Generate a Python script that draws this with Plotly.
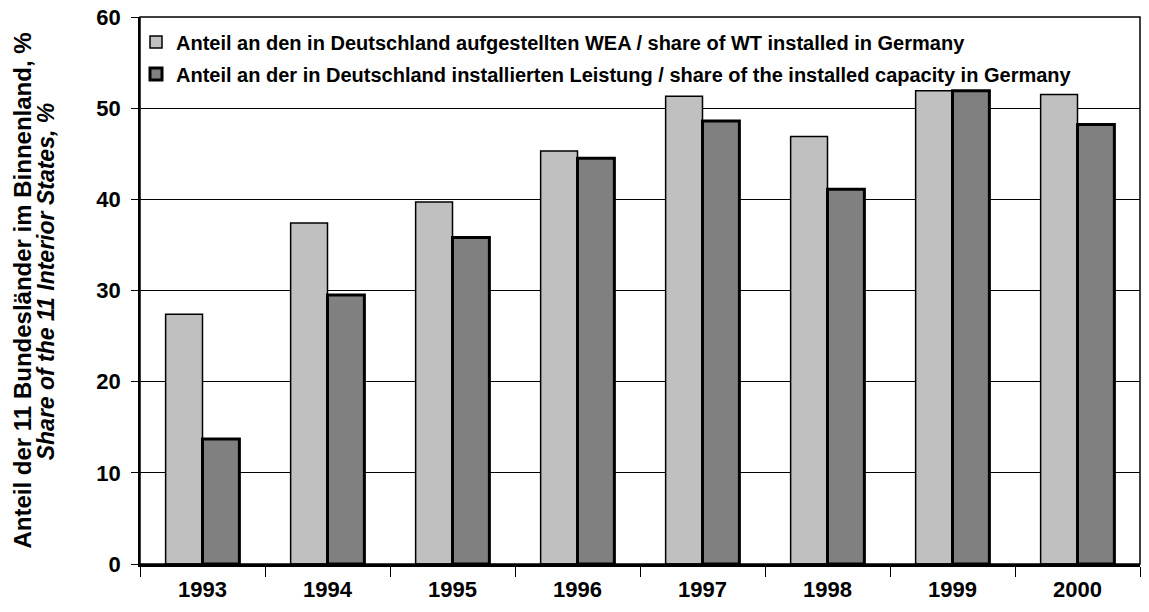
"""Share of the 11 interior states in German wind turbine installations."""

import plotly.graph_objects as go

years = ["1993", "1994", "1995", "1996", "1997", "1998", "1999", "2000"]
share_wt = [27.4, 37.4, 39.7, 45.3, 51.3, 46.9, 51.9, 51.5]
share_capacity = [13.7, 29.5, 35.8, 44.5, 48.6, 41.1, 51.9, 48.2]

name_wt = "Anteil an den in Deutschland aufgestellten WEA / share of WT installed in Germany"
name_capacity = (
    "Anteil an der in Deutschland installierten Leistung / share of the installed capacity in Germany"
)

FONT = "Arial, Liberation Sans, sans-serif"

fig = go.Figure()

fig.add_trace(
    go.Bar(
        x=years,
        y=share_wt,
        name=name_wt,
        legendgroup="wt",
        marker=dict(color="#C0C0C0", line=dict(color="black", width=1.5)),
    )
)
fig.add_trace(
    go.Bar(
        x=years,
        y=share_capacity,
        name=name_capacity,
        legendgroup="cap",
        marker=dict(color="#808080", line=dict(color="black", width=3)),
    )
)

fig.update_layout(
    width=1149,
    height=612,
    margin=dict(l=140, r=9, t=17, b=48),
    paper_bgcolor="white",
    plot_bgcolor="white",
    barmode="group",
    bargap=0.41,
    bargroupgap=0,
    font=dict(family=FONT, color="black"),
    legend=dict(
        x=-0.004,
        y=0.99,
        xanchor="left",
        yanchor="top",
        bgcolor="rgba(0,0,0,0)",
        font=dict(size=20, family=FONT, weight="bold"),
        traceorder="grouped",
        tracegroupgap=3,
        itemwidth=30,
    ),
    xaxis=dict(
        automargin=False,
        showline=True,
        linecolor="black",
        linewidth=2.5,
        ticks="outside",
        tickson="boundaries",
        ticklen=10,
        tickcolor="black",
        tickwidth=1,
        ticklabelstandoff=4,
        tickfont=dict(size=22, family=FONT, weight="bold"),
        ticklabeloverflow="allow",
        showgrid=False,
    ),
    yaxis=dict(
        automargin=False,
        range=[0, 60],
        dtick=10,
        showline=True,
        linecolor="black",
        linewidth=1.5,
        ticks="outside",
        ticklen=7,
        tickcolor="black",
        ticklabelstandoff=6,
        ticklabeloverflow="allow",
        tickfont=dict(size=22, family=FONT, weight="bold"),
        showgrid=True,
        gridcolor="black",
        gridwidth=1,
        zeroline=False,
    ),
)

# plot area frame
fig.add_shape(
    type="rect",
    xref="paper",
    yref="paper",
    x0=0,
    x1=1,
    y0=0,
    y1=1,
    line=dict(color="black", width=1.5),
    layer="above",
)

# two-line y axis title
fig.add_annotation(
    text="Anteil der 11 Bundesländer im Binnenland, %",
    xref="paper",
    yref="paper",
    x=-0.118,
    y=0.5,
    textangle=-90,
    showarrow=False,
    xanchor="center",
    yanchor="middle",
    font=dict(size=24, family=FONT, weight="bold"),
)
fig.add_annotation(
    text="<i>Share of the 11 Interior States, %</i>",
    xref="paper",
    yref="paper",
    x=-0.094,
    y=0.515,
    textangle=-90,
    showarrow=False,
    xanchor="center",
    yanchor="middle",
    font=dict(size=23, family=FONT, weight="bold"),
)

# drop the default 8px page margin so the figure fills the window exactly
fig.write_html(
    "out.html",
    config={"displayModeBar": False},
    post_script="document.body.style.margin = '0';",
)
